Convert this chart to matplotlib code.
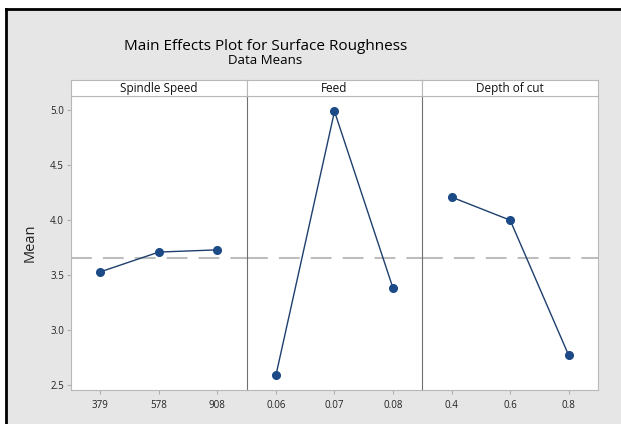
import matplotlib
matplotlib.use("Agg")
import matplotlib.pyplot as plt
from matplotlib.lines import Line2D

factors = ["Spindle Speed", "Feed", "Depth of cut"]
levels = [["379", "578", "908"], ["0.06", "0.07", "0.08"], ["0.4", "0.6", "0.8"]]
means = [[3.53, 3.71, 3.73], [2.59, 4.99, 3.38], [4.21, 4.00, 2.77]]
grand_mean = 3.66
y_ticks = [2.5, 3.0, 3.5, 4.0, 4.5, 5.0]

plt.rcParams['font.family'] = ['Open Sans', 'DejaVu Sans']

W, H = 621, 424
fig = plt.figure(figsize=(W / 100, H / 100), dpi=100)
fig.patch.set_facecolor('white')

# grey panel background with black top/left border
bg = plt.Rectangle((6 / W, 0), 1 - 6 / W, 1 - 9 / H, transform=fig.transFigure,
                   facecolor='#e6e6e6', edgecolor='none', zorder=-10)
fig.patches.append(bg)
fig.lines.append(Line2D([6 / W, 1], [1 - 9 / H, 1 - 9 / H], transform=fig.transFigure,
                        color='black', lw=2, zorder=-5))
fig.lines.append(Line2D([6 / W, 6 / W], [0, 1 - 9 / H], transform=fig.transFigure,
                        color='black', lw=2, zorder=-5))

left, right = 71 / W, 598 / W
bottom, top = 1 - 390 / H, 1 - 96 / H
strip_h = 16 / H
pw = (right - left) / 3

line_col = '#1e3f6e'
mark_col = '#1b4a87'

for i in range(3):
    ax = fig.add_axes([left + i * pw, bottom, pw, top - bottom])
    x = [1, 2, 3]
    ax.axhline(grand_mean, color='#bdbdbd', lw=1.5, dashes=(10, 5.3), zorder=1)
    ax.plot(x, means[i], color=line_col, lw=1.0, marker='o', ms=5.5,
            mfc=mark_col, mec=mark_col, zorder=3)
    ax.set_xlim(0.5, 3.5)
    ax.set_ylim(2.455, 5.13)
    ax.set_xticks(x)
    ax.set_xticklabels(levels[i])
    ax.tick_params(axis='x', direction='out', length=3, color='#b0b0b0',
                   labelsize=7, labelcolor='#222222', pad=4)
    if i == 0:
        ax.set_yticks(y_ticks)
        ax.set_yticklabels([f"{v:.1f}" for v in y_ticks])
        ax.tick_params(axis='y', direction='out', length=3, color='#b0b0b0',
                       labelsize=7, labelcolor='#222222', pad=2)
        ax.set_ylabel("Mean", fontsize=10.5, color='#222222', labelpad=9)
    else:
        ax.set_yticks([])
    for s in ax.spines.values():
        s.set_color('#b8b8b8')
        s.set_linewidth(0.8)
    if i > 0:
        ax.spines['left'].set_color('#707070')
    if i < 2:
        ax.spines['right'].set_visible(False)
    ax.set_facecolor('white')

    sax = fig.add_axes([left + i * pw, top, pw, strip_h])
    sax.set_xticks([]); sax.set_yticks([])
    sax.set_facecolor('white')
    for s in sax.spines.values():
        s.set_color('#b8b8b8')
        s.set_linewidth(0.8)
    sax.text(0.5, 0.45, factors[i], ha='center', va='center', fontsize=8.5,
             color='#111111', transform=sax.transAxes)

fig.text(266 / W, 1 - 47 / H, "Main Effects Plot for Surface Roughness",
         ha='center', va='center', fontsize=11, color='#000000')
fig.text(265 / W, 1 - 61 / H, "Data Means", ha='center', va='center',
         fontsize=9.5, color='#000000')

fig.savefig("out.png", dpi=100, facecolor=fig.get_facecolor())
